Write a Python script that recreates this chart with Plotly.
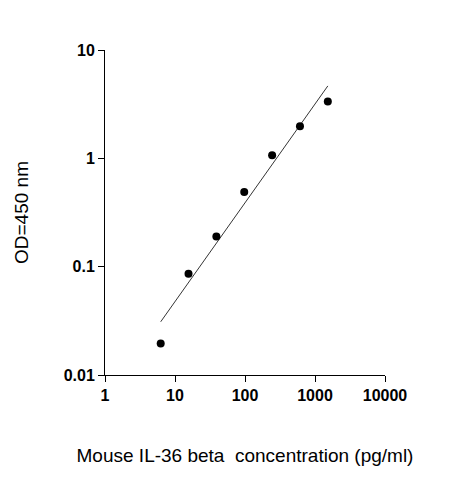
import plotly.graph_objects as go

conc = [6.25, 15.6, 39, 97.5, 244, 610, 1525]
od = [0.0195, 0.086, 0.19, 0.49, 1.07, 1.98, 3.35]
fit_x = [6.25, 1525]
fit_y = [0.031, 4.66]

fig = go.Figure()
fig.add_trace(go.Scatter(x=fit_x, y=fit_y, mode="lines", line=dict(color="black", width=0.8), showlegend=False))
fig.add_trace(go.Scatter(x=conc, y=od, mode="markers", marker=dict(color="black", size=8), showlegend=False))

common = dict(type="log", showgrid=False, zeroline=False, showline=True, linecolor="black", linewidth=1,
              ticks="outside", ticklen=6, tickcolor="black", tickfont=dict(family="Liberation Sans, Arial", size=16, color="black", weight="bold"))
fig.update_xaxes(**common, range=[0, 4], tickvals=[1, 10, 100, 1000, 10000], ticktext=["1", "10", "100", "1000", "10000"],
                 title=dict(text="Mouse IL-36 beta  concentration (pg/ml)", font=dict(family="Liberation Sans, Arial", size=19, color="black"), standoff=45))
fig.update_yaxes(**common, range=[-2, 1], tickvals=[0.01, 0.1, 1, 10], ticktext=["0.01", "0.1", "1", "10"],
                 title=dict(text="OD=450 nm", font=dict(family="Liberation Sans, Arial", size=19, color="black"), standoff=30))
fig.update_layout(width=463, height=480, margin=dict(l=85, r=86, t=42, b=113), plot_bgcolor="white", paper_bgcolor="white")
fig.write_html("out.html")
